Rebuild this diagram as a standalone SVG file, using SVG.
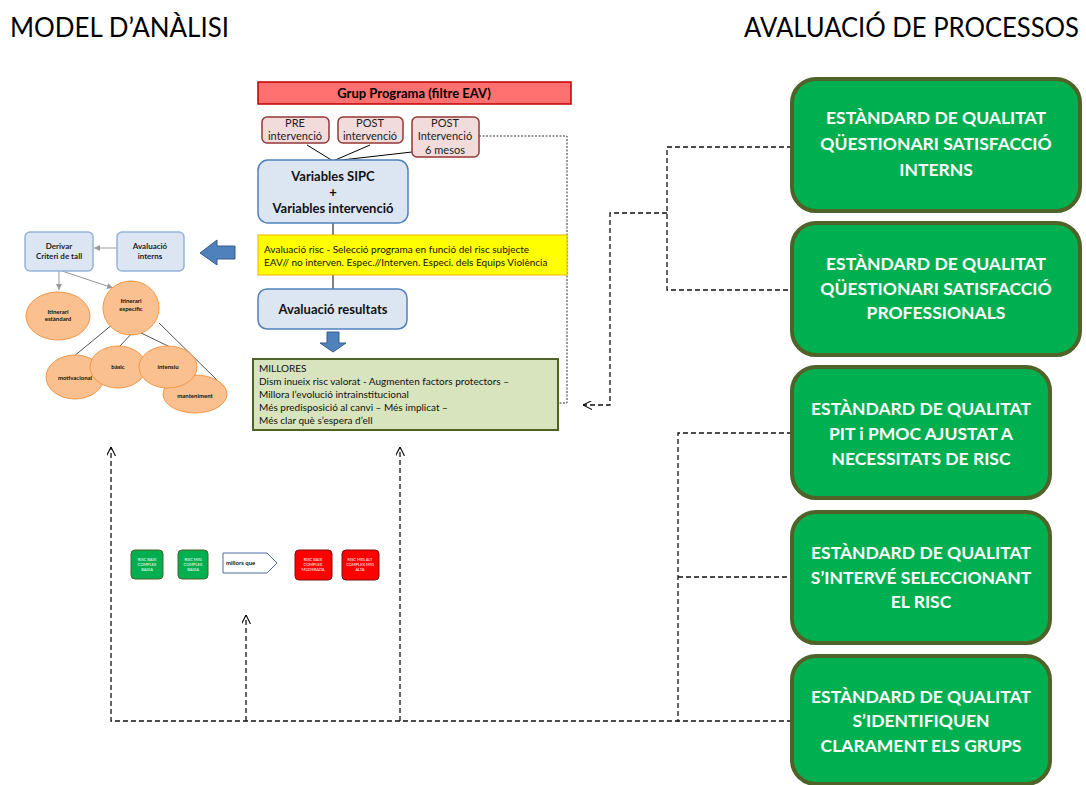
<svg xmlns="http://www.w3.org/2000/svg" width="1086" height="785" viewBox="0 0 1086 785">
<defs>
<style>
text{font-family:Lato,"Open Sans","Liberation Sans",sans-serif;}
.title{font-size:26px;fill:#000;}
.std rect{fill:#00B050;stroke:#4F6228;stroke-width:4;}
.std text{fill:#fff;font-weight:bold;font-size:17.5px;text-anchor:middle;}
.pink rect{fill:#F2DCDB;stroke:#953735;stroke-width:1.5;}
.pink text{font-size:11px;text-anchor:middle;fill:#222;}
.blue rect{fill:#DCE6F2;stroke:#4F81BD;stroke-width:1.5;}
.blue text{font-size:13px;font-weight:bold;text-anchor:middle;fill:#111;}
.sblue rect{fill:#DCE6F2;stroke:#95B3D7;stroke-width:1.5;}
.sblue text{font-size:8px;font-weight:bold;text-anchor:middle;fill:#222;}
.orange ellipse{fill:#FAC090;stroke:#F79646;stroke-width:1;}
.orange text{font-size:6px;font-weight:bold;text-anchor:middle;fill:#111;}
.gs rect{fill:#00B050;stroke:#4F6228;stroke-width:1;}
.rs rect{fill:#FF0000;stroke:#7F1010;stroke-width:1;}
.mini text{font-size:4px;fill:#fff;text-anchor:middle;}
.body{font-size:10px;fill:#111;}
.dash{fill:none;stroke:#111;stroke-width:1.3;stroke-dasharray:5,3;}
.dot{fill:none;stroke:#333;stroke-width:1;stroke-dasharray:2,1.5;}
.thin{fill:none;stroke:#000;stroke-width:1;}
.gray{fill:none;stroke:#999;stroke-width:1;}
.dgray{fill:none;stroke:#555;stroke-width:1;}
.barrow{fill:#4F81BD;stroke:#385D8A;stroke-width:1;}
</style>
<marker id="open" viewBox="0 0 10 10" refX="10" refY="5" markerWidth="9" markerHeight="9" markerUnits="userSpaceOnUse" orient="auto">
<path d="M0,0 L10,5 L0,10" fill="none" stroke="#000" stroke-width="1.2"/>
</marker>
<marker id="garrow" viewBox="0 0 10 10" refX="10" refY="5" markerWidth="6" markerHeight="6" markerUnits="userSpaceOnUse" orient="auto">
<path d="M0,0 L10,5 L0,10 Z" fill="#999"/>
</marker>
</defs>
<rect width="1086" height="785" fill="#fff"/>

<text class="title" x="10" y="37" textLength="219" lengthAdjust="spacingAndGlyphs">MODEL D’ANÀLISI</text>
<text class="title" x="744" y="37" textLength="335" lengthAdjust="spacingAndGlyphs">AVALUACIÓ DE PROCESSOS</text>

<g id="connectors">
<path class="thin" d="M307,145 L333,161 M370,145 L333,161 M412,152 L333,161"/>
<path class="thin" d="M333,223 V235 M333,275 V289"/>
<path class="dot" d="M479,136 H567 V403 H558"/>
<path class="dash" d="M792,147 H667 V290 H792"/>
<path class="dash" d="M667,213 H610 V405 H583" marker-end="url(#open)"/>
<path class="dash" d="M792,433 H678 V722"/>
<path class="dash" d="M678,577 H792"/>
<path class="dash" d="M792,721 H111 V447" marker-end="url(#open)"/>
<path class="dash" d="M246,721 V615" marker-end="url(#open)"/>
<path class="dash" d="M400,721 V447" marker-end="url(#open)"/>
<path class="gray" d="M117,248 H94" marker-end="url(#garrow)"/>
<path class="gray" d="M59,271 V290" marker-end="url(#garrow)"/>
<path class="gray" d="M62,271 L113,288" marker-end="url(#garrow)"/>
<path class="dgray" d="M113,324 L73,357 M135,330 L119,347 M135,330 L170,347 M159,323 L219,382"/>
</g>

<g id="std1" class="std"><rect x="792" y="79" width="288" height="132" rx="24"/>
<text x="936" y="124">ESTÀNDARD DE QUALITAT</text><text x="936" y="150">QÜESTIONARI SATISFACCIÓ</text><text x="936" y="176">INTERNS</text></g>
<g id="std2" class="std"><rect x="792" y="223" width="288" height="132" rx="24"/>
<text x="936" y="270">ESTÀNDARD DE QUALITAT</text><text x="936" y="295">QÜESTIONARI SATISFACCIÓ</text><text x="936" y="319">PROFESSIONALS</text></g>
<g id="std3" class="std"><rect x="792" y="367" width="258" height="131" rx="24"/>
<text x="921" y="415">ESTÀNDARD DE QUALITAT</text><text x="921" y="440">PIT i PMOC AJUSTAT A</text><text x="921" y="465">NECESSITATS DE RISC</text></g>
<g id="std4" class="std"><rect x="792" y="512" width="258" height="131" rx="24"/>
<text x="921" y="559">ESTÀNDARD DE QUALITAT</text><text x="921" y="584">S’INTERVÉ SELECCIONANT</text><text x="921" y="608">EL RISC</text></g>
<g id="std5" class="std"><rect x="792" y="656" width="258" height="128" rx="24"/>
<text x="921" y="703">ESTÀNDARD DE QUALITAT</text><text x="921" y="727">S’IDENTIFIQUEN</text><text x="921" y="752">CLARAMENT ELS GRUPS</text></g>

<g id="grup"><rect x="258" y="82" width="313" height="22" fill="#FF7070" stroke="#C00000" stroke-width="1.5"/>
<text x="414" y="98" font-size="13" font-weight="bold" text-anchor="middle">Grup Programa (filtre EAV)</text></g>
<g id="pre" class="pink"><rect x="262" y="117" width="67" height="26" rx="5"/><text x="295" y="127">PRE</text><text x="295" y="140">intervenció</text></g>
<g id="post" class="pink"><rect x="338" y="117" width="65" height="26" rx="5"/><text x="370" y="127">POST</text><text x="370" y="140">intervenció</text></g>
<g id="post6" class="pink"><rect x="412" y="117" width="67" height="40" rx="5"/><text x="445" y="127">POST</text><text x="445" y="140">Intervenció</text><text x="445" y="154">6 mesos</text></g>

<g id="vars" class="blue"><rect x="258" y="160" width="150" height="63" rx="10"/>
<text x="333" y="181">Variables SIPC</text><text x="333" y="197">+</text><text x="333" y="213">Variables intervenció</text></g>

<g id="risc"><rect x="258" y="235" width="309" height="40" fill="#FFFF00" stroke="#F0B000" stroke-width="1"/>
<text class="body" x="264" y="253">Avaluació risc - Selecció  programa en funció del risc subjecte</text>
<text class="body" x="264" y="266">EAV// no interven. Espec.//Interven. Especi. dels  Equips Violència</text></g>

<g id="resultats" class="blue"><rect x="258" y="289" width="149" height="40" rx="9"/><text x="333" y="314">Avaluació resultats</text></g>

<path id="downarrow" class="barrow" d="M327,332 H339 V343 H346 L333,352 L320,343 H327 Z"/>

<g id="millores"><rect x="253" y="359" width="305" height="71" fill="#D7E4BD" stroke="#4F6228" stroke-width="2"/>
<text class="body" x="259" y="372">MILLORES</text>
<text class="body" x="259" y="385">Dism inueix risc valorat  - Augmenten factors protectors –</text>
<text class="body" x="259" y="398">Millora l’evolució intrainstitucional</text>
<text class="body" x="259" y="411">Més predisposició al canvi – Més implicat –</text>
<text class="body" x="259" y="424">Més clar què s’espera d’ell</text></g>

<path id="leftarrow" class="barrow" d="M235,246 H217 V240 L200,253 L217,265 V259 H235 Z"/>

<g id="aval" class="sblue"><rect x="117" y="232" width="67" height="39" rx="5"/><text x="150" y="249">Avaluació</text><text x="150" y="259">interns</text></g>
<g id="derivar" class="sblue"><rect x="25" y="232" width="68" height="39" rx="5"/><text x="59" y="249">Derivar</text><text x="59" y="259">Criteri de tall</text></g>

<g id="estandard" class="orange"><ellipse cx="58" cy="316" rx="32" ry="24"/><text x="58" y="314">Itinerari</text><text x="58" y="321">estàndard</text></g>
<g id="especific" class="orange"><ellipse cx="131" cy="308" rx="28" ry="27"/><text x="131" y="303">Itinerari</text><text x="131" y="311">específic</text></g>
<g id="motivacional" class="orange"><ellipse cx="75" cy="377" rx="29" ry="22"/><text x="75" y="380">motivacional</text></g>
<g id="basic" class="orange"><ellipse cx="118" cy="367" rx="28" ry="21"/><text x="118" y="369">bàsic</text></g>
<g id="manteniment" class="orange"><ellipse cx="195" cy="394" rx="32" ry="19"/><text x="195" y="398">manteniment</text></g>
<g id="intensiu" class="orange"><ellipse cx="168" cy="367" rx="29" ry="21"/><text x="168" y="369">intensiu</text></g>

<g id="rbcb" class="gs mini"><rect x="131" y="550" width="32" height="29" rx="4"/><text x="147" y="561">RISC BAIX</text><text x="147" y="566">COMPLEX</text><text x="147" y="571">BAIXA</text></g>
<g id="rmcb" class="gs mini"><rect x="178" y="550" width="30" height="29" rx="4"/><text x="193" y="561">RISC MIG</text><text x="193" y="566">COMPLEX</text><text x="193" y="571">BAIXA</text></g>
<g id="millorsque"><path d="M223,553 H267 L277,563 L267,573 H223 Z" fill="#fff" stroke="#4F6E9F" stroke-width="1"/>
<text x="226" y="565" font-size="6" font-weight="bold" fill="#111">millors que</text></g>
<g id="rbcm" class="rs mini"><rect x="295" y="550" width="37" height="30" rx="4"/><text x="313" y="561">RISC BAIX</text><text x="313" y="566">COMPLEX</text><text x="313" y="571">MODERADA</text></g>
<g id="rmcm" class="rs mini"><rect x="342" y="550" width="37" height="30" rx="4"/><text x="360" y="561">RISC MIG ALT</text><text x="360" y="566">COMPLEX MIG</text><text x="360" y="571">ALTA</text></g>
</svg>
